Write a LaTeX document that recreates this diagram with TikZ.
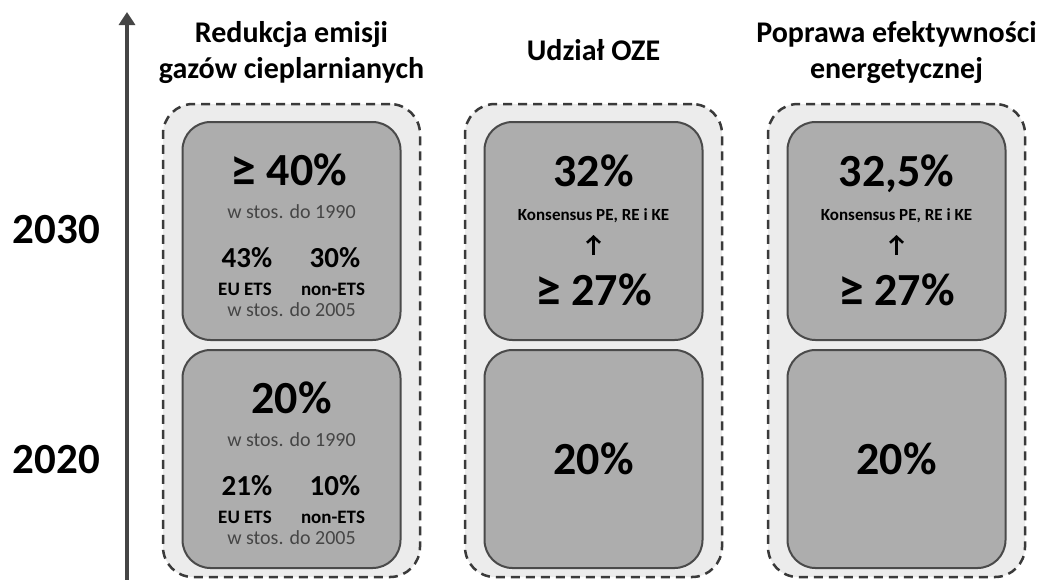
\documentclass[tikz,border=0pt]{standalone}
\usepackage{fontspec}
\usepackage{graphicx}
\setmainfont{Carlito}
\usetikzlibrary{arrows.meta}
\definecolor{innerc}{HTML}{ADADAD}
\definecolor{outerc}{HTML}{ECECEC}
\definecolor{edgec}{HTML}{4A4A4A}
\definecolor{dashc}{HTML}{3A3A3A}
\definecolor{notec}{HTML}{454545}
\definecolor{axisc}{HTML}{454545}
\newcommand{\geqbig}{\raisebox{-1.5pt}{\scalebox{1.12}{≥}}}
\begin{document}
\begin{tikzpicture}[x=1pt,y=-1pt,
  outerbox/.style={draw=dashc, fill=outerc, line width=2.5pt, dash pattern=on 9pt off 6pt, rounded corners=30pt, minimum width=257pt, minimum height=473pt, inner sep=0pt},
  innerbox/.style={draw=edgec, fill=innerc, line width=2pt, rounded corners=28pt, minimum width=218pt, minimum height=218pt, inner sep=0pt},
  big/.style={font=\bfseries\fontsize{46}{46}\selectfont, anchor=base, inner sep=0pt},
  mid/.style={font=\bfseries\fontsize{29}{29}\selectfont, anchor=base, inner sep=0pt},
  lbl/.style={font=\bfseries\fontsize{19}{19}\selectfont, anchor=base, inner sep=0pt},
  notetxt/.style={font=\fontsize{20}{20}\selectfont, text=notec, anchor=base, inner sep=0pt},
  kons/.style={font=\bfseries\fontsize{17}{17}\selectfont, anchor=base, inner sep=0pt},
  title/.style={font=\bfseries\fontsize{30}{30}\selectfont, anchor=base, inner sep=0pt},
  year/.style={font=\bfseries\fontsize{43}{43}\selectfont, anchor=base, inner sep=0pt},
  axis/.style={draw=axisc, line width=4pt, -{Triangle[length=13pt,width=16pt]}},
  uparrow/.style={draw=black, line width=2.6pt, -{Straight Barb[length=6pt,width=13pt]}},
]
\useasboundingbox (0,0) rectangle (1040,579);
\fill[white] (0,0) rectangle (1040,579);

% axis
\coordinate (axb) at (127,582);
\coordinate (axt) at (127,12);
\draw[axis] (axb) -- (axt);
\node[year] (y30) at (56.5,243) {2030};
\node[year] (y20) at (56.5,473) {2020};

% titles
\node[title] (t1a) at (291.5,42) {Redukcja emisji};
\node[title] (t1b) at (291.5,78) {gazów cieplarnianych};
\node[title] (t2) at (593.5,60) {Udział OZE};
\node[title] (t3a) at (896.5,42) {Poprawa efektywności};
\node[title] (t3b) at (896.5,78) {energetycznej};

% outer dashed boxes
\node[outerbox] (o1) at (291.5,340.5) {};
\node[outerbox] (o2) at (593.5,340.5) {};
\node[outerbox] (o3) at (896.5,340.5) {};

% inner boxes
\node[innerbox] (b1t) at (291.5,231) {};
\node[innerbox] (b1b) at (291.5,459) {};
\node[innerbox] (b2t) at (593.5,231) {};
\node[innerbox] (b2b) at (593.5,459) {};
\node[innerbox] (b3t) at (896.5,231) {};
\node[innerbox] (b3b) at (896.5,459) {};

% column 1, 2030
\node[big] (c1a) at (289,185) {\geqbig{} 40\%};
\node[notetxt] (c1b) at (291.5,218) {w stos. do 1990};
\node[mid] (c1c) at (247,267) {43\%};
\node[mid] (c1d) at (335,267) {30\%};
\node[lbl] (c1e) at (245,295) {EU ETS};
\node[lbl] (c1f) at (333,295) {non-ETS};
\node[notetxt] (c1g) at (291.5,316) {w stos. do 2005};

% column 1, 2020
\node[big] (d1a) at (291.5,413) {20\%};
\node[notetxt] (d1b) at (291.5,446) {w stos. do 1990};
\node[mid] (d1c) at (247,495) {21\%};
\node[mid] (d1d) at (335,495) {10\%};
\node[lbl] (d1e) at (245,523) {EU ETS};
\node[lbl] (d1f) at (333,523) {non-ETS};
\node[notetxt] (d1g) at (291.5,544) {w stos. do 2005};

% column 2
\node[big] (c2a) at (593.5,186) {32\%};
\node[kons] (c2k) at (593.5,220) {Konsensus PE, RE i KE};
\node[big] (c2l) at (593.5,305) {\geqbig{} 27\%};
\draw[uparrow] ([yshift=50pt]c2l.base) -- ([yshift=-15pt]c2k.base);
\node[big] (d2a) at (593.5,474) {20\%};

% column 3
\node[big] (c3a) at (896.5,186) {32,5\%};
\node[kons] (c3k) at (896.5,220) {Konsensus PE, RE i KE};
\node[big] (c3l) at (896.5,305) {\geqbig{} 27\%};
\draw[uparrow] ([yshift=50pt]c3l.base) -- ([yshift=-15pt]c3k.base);
\node[big] (d3a) at (896.5,474) {20\%};
\end{tikzpicture}
\end{document}
